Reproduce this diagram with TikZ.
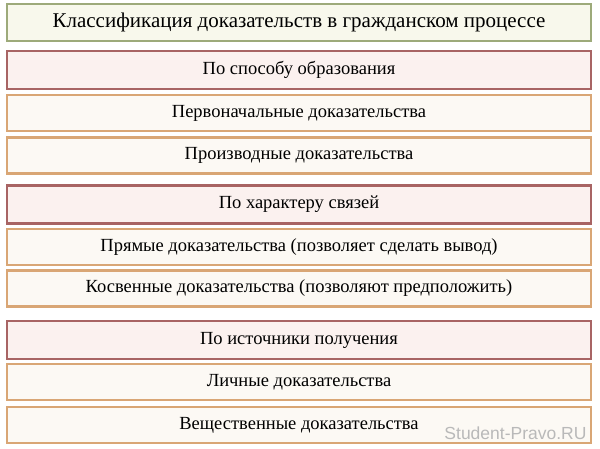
\documentclass[tikz,border=0pt]{standalone}
\usepackage{fontspec}
\setmainfont{Liberation Serif}
\newfontfamily\marksans{Liberation Sans}
\definecolor{titleline}{HTML}{9DAA7A}
\definecolor{titlefill}{HTML}{F8F8EC}
\definecolor{groupline}{HTML}{A86464}
\definecolor{groupfill}{HTML}{FBF1EF}
\definecolor{itemline}{HTML}{D9A675}
\definecolor{itemfill}{HTML}{FCF9F4}
\begin{document}
\begin{tikzpicture}[x=1pt, y=-1pt,
    box/.style={draw, line width=2.5pt, minimum width=584pt, inner sep=0pt, font=\fontsize{18.5}{20}\selectfont},
    titlebox/.style={box, draw=titleline, fill=titlefill, minimum height=37pt, font=\fontsize{21}{23}\selectfont},
    groupbox/.style={box, draw=groupline, fill=groupfill, minimum height=38pt},
    itembox/.style={box, draw=itemline, fill=itemfill, minimum height=36pt}]

    \useasboundingbox[fill=white] (0, 0) rectangle (600, 448);

    % === Заголовок ===
    \node[titlebox] (title) at (299, 22.5) {Классификация доказательств в гражданском процессе};

    % === По способу образования ===
    \node[groupbox] (form) at (299, 70) {По способу образования};
    \node[itembox] (orig) at (299, 113) {Первоначальные доказательства};
    \node[itembox] (deriv) at (299, 155.5) {Производные доказательства};

    % === По характеру связей ===
    \node[groupbox] (link) at (299, 204.5) {По характеру связей};
    \node[itembox] (direct) at (299, 247) {Прямые доказательства (позволяет сделать вывод)};
    \node[itembox] (indirect) at (299, 288.5) {Косвенные доказательства (позволяют предположить)};

    % === По источники получения ===
    \node[groupbox] (source) at (299, 340) {По источники получения};
    \node[itembox] (personal) at (299, 382) {Личные доказательства};
    \node[itembox] (material) at (299, 425) {Вещественные доказательства};

    % Водяной знак
    \node[font=\marksans\fontsize{17.5}{19}\selectfont, gray!55, anchor=east] (mark) at (590, 433) {Student-Pravo.RU};

\end{tikzpicture}
\end{document}
